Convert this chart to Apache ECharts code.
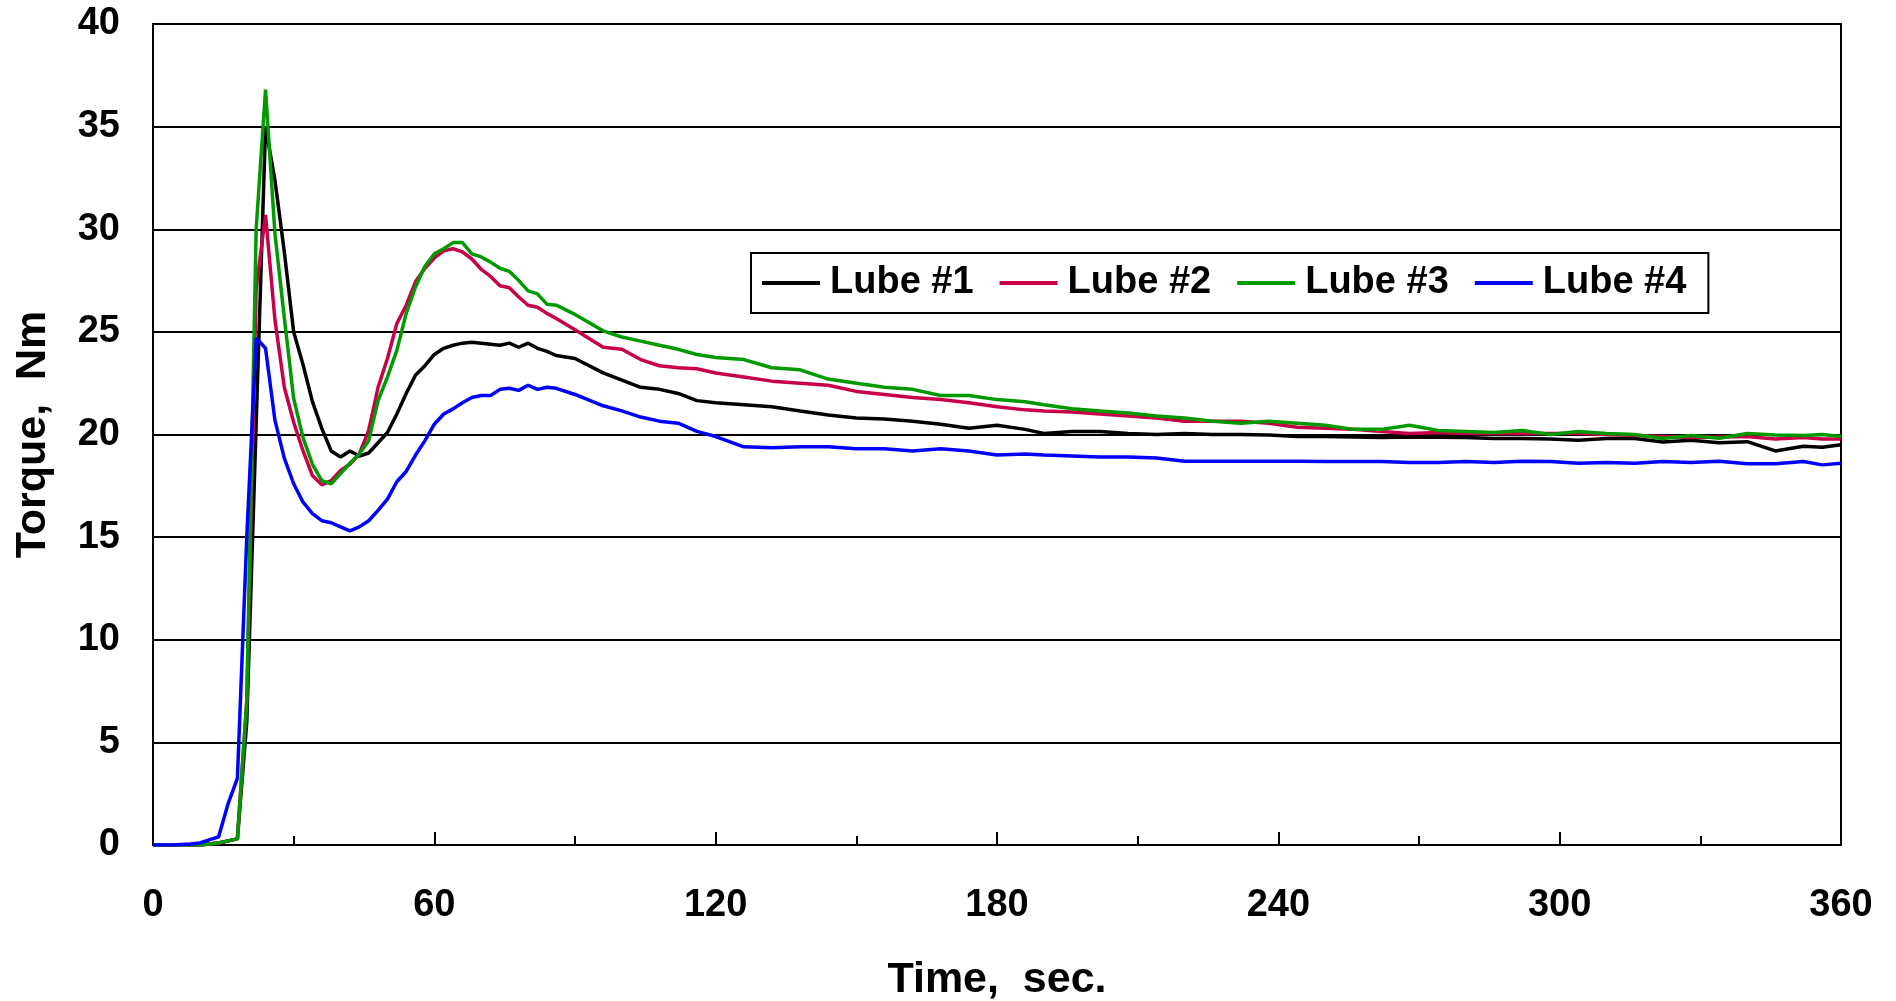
<!DOCTYPE html>
<html>
<head>
<meta charset="utf-8">
<script src="https://cdn.jsdelivr.net/npm/echarts@6/dist/echarts.min.js"></script>
<style>
  html, body { margin: 0; padding: 0; background: #fff; }
  #chart { width: 1896px; height: 1001px; }
</style>
</head>
<body>
<div id="chart"></div>
<script>
// torque vs time, four lubes

const time = [0, 4, 8, 10, 12, 14, 16, 18, 20,
    22, 24, 26, 28, 30, 32, 34, 36, 38, 40, 42, 44, 46, 48, 50, 52, 54, 56, 58, 60,
    62, 64, 66, 68, 70, 72, 74, 76, 78, 80, 82, 84, 86,
    90, 96, 100, 104, 108, 112, 116, 120,
    126, 132, 138, 144, 150, 156, 162, 168, 174, 180, 186, 190,
    196, 202, 208, 214, 220, 226, 232, 238, 244, 250, 256, 262, 268, 274, 280, 286, 292, 298,
    304, 310, 316, 322, 328, 334, 340, 346, 352, 356, 360];

const lube1 = [0, 0, 0, 0, 0.05, 0.1, 0.2, 0.3, 6.0,
    20.5, 35.0, 32.4, 28.9, 25.0, 23.4, 21.6, 20.3, 19.2, 18.9, 19.2, 18.95, 19.1, 19.6, 20.1, 21.0, 22.0, 22.9, 23.35, 23.9,
    24.2, 24.35, 24.45, 24.5, 24.45, 24.4, 24.35, 24.45, 24.25, 24.45, 24.2, 24.05, 23.85,
    23.7, 23.0, 22.65, 22.3, 22.2, 22.0, 21.65, 21.55,
    21.45, 21.35, 21.15, 20.95, 20.8, 20.75, 20.65, 20.5, 20.3, 20.45, 20.25, 20.05,
    20.15, 20.15, 20.05, 20.0, 20.05, 20.0, 20.0, 19.98, 19.9, 19.9, 19.88, 19.85, 19.88, 19.86, 19.85, 19.8, 19.8, 19.78,
    19.72, 19.8, 19.8, 19.64, 19.72, 19.6, 19.65, 19.2, 19.43, 19.38, 19.5];

const lube2 = [0, 0, 0, 0, 0.05, 0.1, 0.2, 0.3, 7.0,
    27.1, 30.7, 25.6, 22.3, 20.6, 19.2, 18.0, 17.55, 17.75, 18.25, 18.55, 19.05, 20.2, 22.3, 23.7, 25.4, 26.3, 27.45, 28.1, 28.6,
    28.95, 29.05, 28.9, 28.55, 28.05, 27.7, 27.25, 27.15, 26.7, 26.3, 26.2, 25.9, 25.65,
    25.1, 24.25, 24.15, 23.65, 23.35, 23.25, 23.2, 23.0,
    22.8, 22.6, 22.5, 22.4, 22.1, 21.95, 21.8, 21.7, 21.55, 21.35, 21.2, 21.15,
    21.1, 21.0, 20.9, 20.8, 20.65, 20.65, 20.65, 20.55, 20.35, 20.3, 20.25, 20.15, 20.05, 20.1, 20.05, 20.05, 20.05, 20.05,
    20.05, 20.0, 19.95, 19.9, 19.85, 19.88, 19.9, 19.78, 19.85, 19.78, 19.78];

const lube3 = [0, 0, 0, 0, 0.05, 0.1, 0.2, 0.3, 7.0,
    30.0, 36.8, 29.8, 25.7, 21.75, 19.85, 18.55, 17.75, 17.6, 18.1, 18.6, 19.05, 19.7, 21.65, 22.8, 24.1, 25.9, 27.2, 28.2, 28.8,
    29.05, 29.35, 29.35, 28.8, 28.65, 28.4, 28.1, 27.95, 27.5, 27.0, 26.85, 26.35, 26.3,
    25.85, 25.05, 24.75, 24.55, 24.35, 24.15, 23.9, 23.75,
    23.65, 23.25, 23.15, 22.7, 22.5, 22.3, 22.2, 21.9, 21.9, 21.7, 21.6, 21.45,
    21.25, 21.15, 21.05, 20.9, 20.8, 20.65, 20.55, 20.65, 20.55, 20.45, 20.25, 20.25, 20.45, 20.2, 20.15, 20.1, 20.2, 20.0,
    20.15, 20.05, 20.0, 19.8, 19.95, 19.82, 20.05, 19.98, 19.95, 20.0, 19.9];

const lube4 = [0, 0, 0.05, 0.1, 0.25, 0.4, 2.0, 3.25, 15.0,
    24.7, 24.2, 20.7, 18.85, 17.6, 16.7, 16.15, 15.8, 15.7, 15.5, 15.3, 15.5, 15.8, 16.3, 16.85, 17.7, 18.2, 19.0, 19.7, 20.5,
    21.0, 21.25, 21.55, 21.8, 21.9, 21.9, 22.2, 22.25, 22.15, 22.4, 22.2, 22.3, 22.25,
    21.95, 21.4, 21.15, 20.85, 20.65, 20.55, 20.15, 19.9,
    19.4, 19.35, 19.4, 19.4, 19.3, 19.3, 19.2, 19.3, 19.2, 19.0, 19.05, 19.0,
    18.95, 18.9, 18.9, 18.85, 18.7, 18.7, 18.7, 18.7, 18.7, 18.68, 18.68, 18.68, 18.63, 18.63, 18.68, 18.63, 18.7, 18.68,
    18.6, 18.63, 18.6, 18.68, 18.63, 18.7, 18.58, 18.58, 18.68, 18.52, 18.6];

const seriesNames = ['Lube #1', 'Lube #2', 'Lube #3', 'Lube #4'];
const seriesColors = ['#000000', '#c8004a', '#009900', '#0000ff'];

const FONT = 'Liberation Sans, Arial, sans-serif';

function pairs(values) {
    return time.map((t, i) => [t, values[i]]);
}

const chart = echarts.init(document.getElementById('chart'));

const allValues = [lube1, lube2, lube3, lube4];

const option = {
    animation: false,
    backgroundColor: '#fff',
    grid: {
        left: 153, right: 55, top: 24, bottom: 156,
        containLabel: false,
        outerBoundsMode: 'none',
        show: true,
        borderColor: '#000',
        borderWidth: 2
    },
    legend: {
        left: 751, top: 253,
        orient: 'horizontal',
        data: seriesNames,
        icon: 'rect',
        itemWidth: 58, itemHeight: 4,
        itemGap: 26,
        padding: [11, 22, 11, 11],
        borderColor: '#000', borderWidth: 2,
        backgroundColor: '#fff',
        textStyle: {
            fontFamily: FONT, fontSize: 38, fontWeight: 'bold', color: '#000',
            padding: [0, 0, 0, 5]
        }
    },
    xAxis: {
        type: 'value',
        min: 0, max: 360, interval: 60,
        name: 'Time,  sec.',
        nameLocation: 'middle',
        nameGap: 114,
        nameTextStyle: { fontFamily: FONT, fontSize: 43, fontWeight: 'bold', color: '#000' },
        axisLine: { show: true, onZero: false, lineStyle: { color: '#000', width: 2 } },
        axisTick: { show: true, inside: true, length: 13, lineStyle: { color: '#000', width: 2 } },
        minorTick: { show: true, splitNumber: 2, length: 9, lineStyle: { color: '#000', width: 2 } },
        axisLabel: { margin: 42, fontFamily: FONT, fontSize: 38, fontWeight: 'bold', color: '#000' },
        splitLine: { show: false }
    },
    yAxis: {
        type: 'value',
        min: 0, max: 40, interval: 5,
        name: 'Torque,  Nm',
        nameLocation: 'middle',
        nameGap: 98,
        nameRotate: 90,
        nameTextStyle: { fontFamily: FONT, fontSize: 43, fontWeight: 'bold', color: '#000' },
        axisLine: { show: true, lineStyle: { color: '#000', width: 2 } },
        axisTick: { show: false },
        axisLabel: { margin: 33, fontFamily: FONT, fontSize: 38, fontWeight: 'bold', color: '#000' },
        splitLine: { show: true, lineStyle: { color: '#000', width: 2 } }
    },
    series: seriesNames.map((name, k) => ({
        name: name,
        type: 'line',
        data: pairs(allValues[k]),
        symbol: 'none',
        smooth: false,
        color: seriesColors[k],
        lineStyle: { color: seriesColors[k], width: 3.5 }
    }))
};

chart.setOption(option);
</script>
</body>
</html>
